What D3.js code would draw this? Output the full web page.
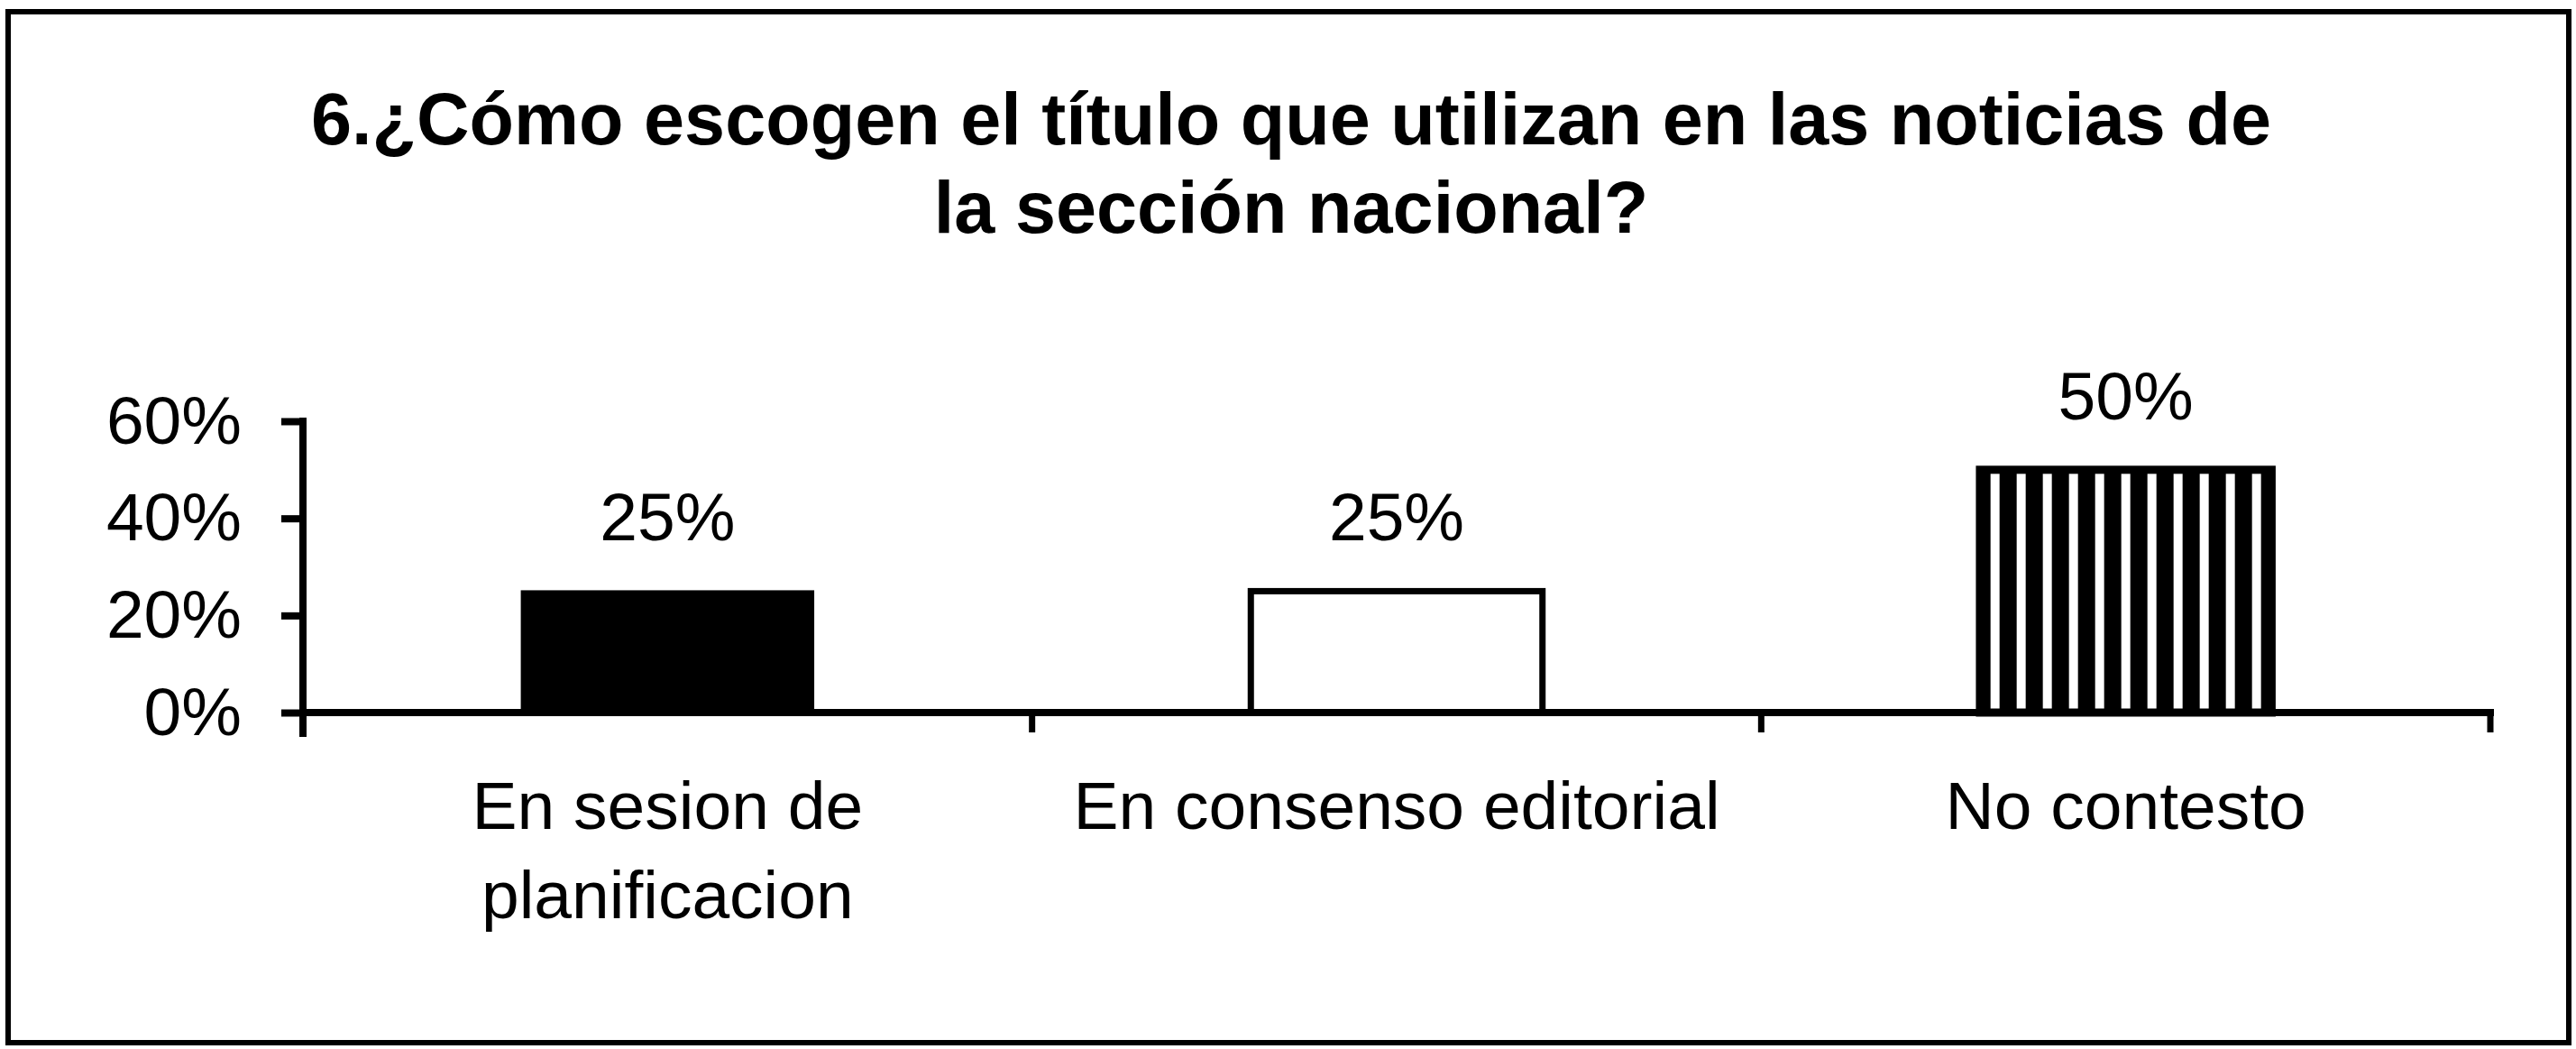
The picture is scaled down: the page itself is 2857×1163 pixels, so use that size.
<!DOCTYPE html>
<html>
<head>
<meta charset="utf-8">
<script src="https://cdn.jsdelivr.net/npm/d3@7"></script>
<style>
  html, body { margin: 0; padding: 0; background: #fff; }
  svg { display: block; }
  text { font-family: "Liberation Sans", Arial, sans-serif; fill: #000; }
</style>
</head>
<body>
<svg id="chart" width="2857" height="1163"></svg>
<script>
// ---- data ----
const titleLines = ["6.¿Cómo escogen el título que utilizan en las noticias de", "la sección nacional?"];
const categories = ["En sesion de\nplanificacion", "En consenso editorial", "No contesto"];
const values = [0.25, 0.25, 0.50];
const valueLabels = ["25%", "25%", "50%"];
const yTickValues = [0, 0.2, 0.4, 0.6];
const yTickLabels = ["0%", "20%", "40%", "60%"];
const barStyles = ["solid", "empty", "stripes"];

// ---- layout ----
const W = 2857, H = 1163;
const plot = { left: 336, right: 2762, top: 467, bottom: 790 };
const svg = d3.select("#chart");

svg.append("rect").attr("x", 0).attr("y", 0).attr("width", W).attr("height", H).attr("fill", "#fff");

// frame
svg.append("rect")
  .attr("x", 9).attr("y", 13).attr("width", 2840).attr("height", 1143)
  .attr("fill", "none").attr("stroke", "#000").attr("stroke-width", 6);

// title
svg.append("g").selectAll("text").data(titleLines).join("text")
  .attr("x", 1432)
  .attr("y", (d, i) => 160 + i * 98)
  .attr("text-anchor", "middle")
  .attr("font-size", 81)
  .attr("font-weight", "bold")
  .text(d => d);

// scales
const x = d3.scaleBand().domain(categories).range([plot.left, plot.right]).paddingInner(0.6).paddingOuter(0.3);
const y = d3.scaleLinear().domain([0, 0.6]).range([plot.bottom, plot.top]);

// stripe pattern
const defs = svg.append("defs");
const bw = x.bandwidth();
const period = 29, stripeW = 10, nStripes = 11;
const stripeOffset = (bw - ((nStripes - 1) * period + stripeW)) / 2;
const pat = defs.append("pattern")
  .attr("id", "vstripes")
  .attr("patternUnits", "userSpaceOnUse")
  .attr("width", period).attr("height", 10)
  .attr("patternTransform", `translate(${x(categories[2]) + stripeOffset},0)`);
pat.append("rect").attr("width", period).attr("height", 10).attr("fill", "#000");
pat.append("rect").attr("x", 0).attr("width", stripeW).attr("height", 10).attr("fill", "#fff");

// bars
const data = categories.map((c, i) => ({ c, v: values[i], label: valueLabels[i], style: barStyles[i] }));
svg.append("g").selectAll("rect").data(data).join("rect")
  .attr("x", d => x(d.c))
  .attr("y", d => y(d.v))
  .attr("width", bw)
  .attr("height", d => y(0) - y(d.v))
  .attr("fill", d => d.style === "solid" ? "#000" : d.style === "empty" ? "#fff" : "url(#vstripes)")
  .attr("stroke", "#000")
  .attr("stroke-width", d => d.style === "solid" ? 2 : d.style === "empty" ? 7 : 9);

// value labels
svg.append("g").selectAll("text").data(data).join("text")
  .attr("x", d => x(d.c) + bw / 2)
  .attr("y", d => y(d.v) - 56)
  .attr("text-anchor", "middle")
  .attr("font-size", 75)
  .text(d => d.label);

// y axis
const yAxis = d3.axisLeft(y).tickValues(yTickValues).tickFormat((d, i) => yTickLabels[i]).tickSize(24).tickPadding(44);
const gy = svg.append("g").attr("transform", `translate(${plot.left},0)`).call(yAxis);
gy.select(".domain").remove();
gy.selectAll(".tick line").attr("stroke", "#000").attr("stroke-width", 8);
gy.selectAll(".tick text").attr("font-size", 75).attr("font-family", "Liberation Sans, Arial, sans-serif").attr("fill", "#000").attr("dy", "0.32em");
gy.append("line").attr("x1", 0).attr("x2", 0).attr("y1", plot.top - 4).attr("y2", plot.bottom + 27)
  .attr("stroke", "#000").attr("stroke-width", 8);

// x axis line and boundary ticks
const gx = svg.append("g");
gx.append("line").attr("x1", plot.left - 4).attr("x2", plot.right + 4).attr("y1", plot.bottom).attr("y2", plot.bottom)
  .attr("stroke", "#000").attr("stroke-width", 8);
const step = x.step();
const boundaries = d3.range(categories.length + 1).map(i => x(categories[0]) - x.paddingOuter() * step + i * step);
gx.selectAll("line.bt").data(boundaries.slice(1)).join("line").attr("class", "bt")
  .attr("x1", d => d).attr("x2", d => d)
  .attr("y1", plot.bottom).attr("y2", plot.bottom + 22)
  .attr("stroke", "#000").attr("stroke-width", 7);

// category labels
const cl = svg.append("g").selectAll("text").data(categories).join("text")
  .attr("x", d => x(d) + bw / 2)
  .attr("y", 919)
  .attr("text-anchor", "middle")
  .attr("font-size", 75);
cl.selectAll("tspan").data(d => d.split("\n").map(s => ({ s, cx: x(d) + bw / 2 }))).join("tspan")
  .attr("x", d => d.cx)
  .attr("dy", (d, i) => i === 0 ? 0 : 99)
  .text(d => d.s);
</script>
</body>
</html>
